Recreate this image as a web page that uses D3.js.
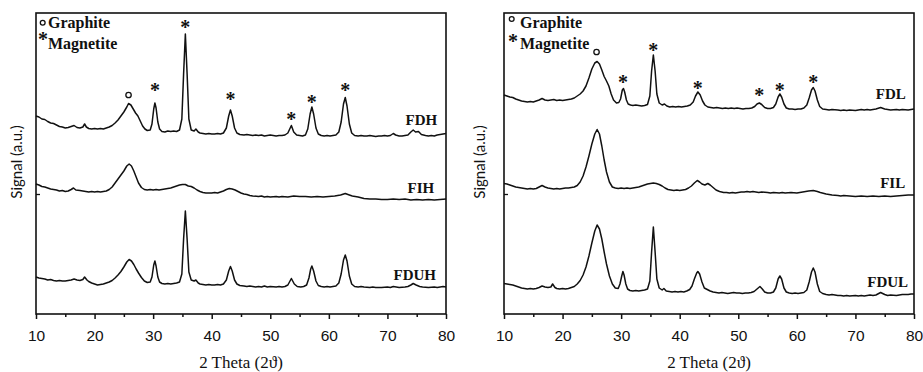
<!DOCTYPE html>
<html>
<head>
<meta charset="utf-8">
<script src="https://cdn.jsdelivr.net/npm/d3@7"></script>
<style>
  body { margin: 0; background: #fff; }
  svg { display: block; }
</style>
</head>
<body>
<div id="chart"></div>
<script>
// 2 theta axis
const xTicks = [10, 20, 30, 40, 50, 60, 70, 80];
const xMinorTicks = [15, 25, 35, 45, 55, 65, 75];

// series (2theta, signal a.u.)
const fdh = [[10,198],[10.5,197],[11,195],[11.5,194.5],[12,192.5],[12.5,191],[13,190.5],[13.5,189],[14,187.5],[14.5,187],[15,186],[15.5,186.5],[16,187.5],[16.5,188.5],[17,186.5],[17.5,186],[18,187],[18.3,190],[18.6,187],[19,185.5],[19.5,185],[20,185.5],[20.5,185],[21,185.5],[21.5,185],[22,186],[22.5,187],[23,188.5],[23.5,191],[24,194],[24.5,198],[25,202],[25.5,207],[25.8,210.5],[26.2,209],[26.6,205],[27,201],[27.4,198],[27.8,193],[28.2,188],[28.6,185],[29,183.5],[29.5,184],[29.8,190],[30.1,205],[30.3,211],[30.5,206],[30.8,192],[31.1,185],[31.5,182.5],[32,182],[32.5,183],[33,182.5],[33.5,183],[34,182.5],[34.5,184],[34.9,195],[35.2,240],[35.5,280],[35.8,240],[36.1,195],[36.5,184],[37,183],[37.3,185],[37.7,182],[38,181],[38.5,180.5],[39,180],[39.5,180.5],[40,180],[40.5,180],[41,180.5],[41.5,180],[42,181],[42.5,186],[42.9,198],[43.2,204],[43.5,198],[43.9,186],[44.3,181],[44.8,179.5],[45.5,179],[46,179.5],[46.5,179],[47,178.5],[47.5,179],[48,178.5],[48.5,179],[49,178],[49.5,178.5],[50,179],[50.5,178.5],[51,178],[51.5,178.5],[52,178.5],[52.5,179],[53,181],[53.6,188.5],[54,182],[54.5,179],[55,178.5],[55.5,178],[56,179],[56.4,185],[56.8,200],[57.1,207],[57.4,200],[57.8,186],[58.2,180],[58.7,178.5],[59.2,178],[59.7,178.5],[60.2,178],[60.7,178.5],[61.2,179],[61.7,182],[62.1,192],[62.5,210],[62.8,216.5],[63.1,208],[63.5,190],[63.9,181],[64.4,178.5],[65,178],[65.5,178.5],[66,178],[66.5,178],[67,178.5],[67.5,178],[68,177.5],[68.5,178],[69,178],[69.5,178.5],[70,178],[70.5,178.5],[71,180.5],[71.4,179],[72,178],[72.5,178],[73,178.5],[73.5,179],[74,182],[74.4,184],[74.8,182],[75.3,182.5],[75.8,179.5],[76.5,178.5],[77,178],[77.5,178.5],[78,178],[78.5,179],[79,179.5],[79.5,180],[80,180.5]];
const fih = [[10,130],[10.5,129],[11,127.5],[11.5,127],[12,126],[12.5,125],[13,124.5],[13.5,124],[14,123],[14.5,123.5],[15,122.5],[15.5,123],[16,124.5],[16.4,126],[16.8,124],[17.5,123.5],[18,123],[18.5,122.5],[19,122],[19.5,122.5],[20,122],[20.5,122.5],[21,122],[21.5,122.5],[22,123],[22.5,124.5],[23,127],[23.5,131],[24,135],[24.5,139],[25,143],[25.5,148],[25.9,150],[26.3,148],[26.7,143],[27.1,137],[27.5,131],[28,126.5],[28.5,124.5],[29,124],[29.5,124.5],[30,124],[30.5,124.5],[31,124],[31.5,124.5],[32,125],[32.5,125.5],[33,126],[33.5,127],[34,128],[34.5,129],[35,129.5],[35.5,129.5],[36,128],[36.5,127.5],[37,126],[37.5,124],[38,122.5],[38.5,121.5],[39,121],[39.5,121],[40,121],[40.5,121.5],[41,121],[41.5,122],[42,123],[42.5,124.5],[43,125.5],[43.5,125],[44,124],[44.5,122.5],[45,121],[45.5,120],[46,119.5],[46.5,118.5],[47,118],[48,117.5],[48.5,118],[49,117],[49.5,117.5],[50,117],[51,117.5],[51.5,117],[52,117.5],[53,117],[53.5,117.5],[54,118],[55,117.5],[56,117.5],[57,117],[58,117.5],[59,117],[60,117.5],[61,118],[62,119],[62.8,120.5],[63.5,119],[64,118],[65,117],[66,115.5],[67,115],[68,115],[69,114.5],[70,114.5],[71,115],[72,114.5],[73,115],[74,114],[75,114.5],[76,114],[77,114.5],[78,114],[79,114.5],[80,115]];
const fduh = [[10,37],[10.5,36],[11,35.5],[11.5,35],[12,34],[12.5,34.5],[13,33.5],[13.5,33],[14,33.5],[14.5,33],[15,33],[15.5,33.5],[16,34],[16.5,35],[17,34],[17.5,33.5],[18,34.5],[18.3,37],[18.7,34],[19,32.5],[19.5,31],[20,30],[20.5,29],[21,29.5],[21.5,30],[22,31],[22.5,32],[23,33.5],[23.5,36],[24,39],[24.5,42.5],[25,47],[25.5,52],[25.9,54.5],[26.3,53],[26.7,49.5],[27.1,45],[27.5,41],[28,36.5],[28.5,33],[29,31.5],[29.5,32],[29.8,37],[30.1,49],[30.3,53],[30.5,48],[30.8,37],[31.1,32],[31.5,30.5],[32,30],[32.5,30.5],[33,30],[33.5,30.5],[34,31],[34.5,32],[34.9,40],[35.2,75],[35.5,103],[35.8,75],[36.1,42],[36.5,34],[37,33],[37.3,34],[37.7,31],[38,30],[38.5,29.5],[39,29],[39.5,29.5],[40,29],[40.5,29],[41,29.5],[41.5,29],[42,30],[42.5,34],[42.9,43],[43.2,47.5],[43.5,43],[43.9,34],[44.3,30],[44.8,28.5],[45.5,28],[46,27.5],[46.5,28],[47,27.5],[47.5,27],[48,27.5],[48.5,27],[49,28],[49.5,27],[50,27.5],[51,27],[51.5,27.5],[52,27],[52.5,27.5],[53,29],[53.6,35.5],[54.1,30],[54.6,27.5],[55.2,27],[55.7,27.5],[56.2,29],[56.6,36],[56.9,45],[57.1,48],[57.4,43],[57.8,33],[58.2,28.5],[58.7,27.5],[59.2,27],[59.7,27.5],[60.2,27],[60.7,27.5],[61.2,28],[61.7,31],[62.1,40],[62.5,54],[62.8,59],[63.1,53],[63.5,38],[63.9,30],[64.4,27.5],[65,27],[65.5,27.5],[66,27],[67,26.5],[67.5,27],[68,26.5],[69,26.5],[70,27],[70.5,26.5],[71,27.5],[71.5,27],[72,26.5],[73,27],[73.5,27.5],[74,29],[74.4,30.5],[74.9,29],[75.5,27.5],[76,27],[77,26.5],[78,27],[78.5,26.5],[79,27],[79.5,27.5],[80,27]];

const fdl = [[10,219],[10.5,218],[11,217],[11.5,216.5],[12,215],[12.5,214],[13,213],[13.5,212.5],[14,212],[14.5,212.5],[15,212],[15.5,213],[16,214],[16.5,215.5],[17,214],[17.5,213.5],[18,214],[18.5,214.5],[19,213.5],[19.5,214],[20,213.5],[20.5,214],[21,214.5],[21.5,215],[22,216],[22.5,218],[23,220],[23.5,223],[24,228],[24.5,236],[25,245],[25.5,251],[25.9,252.5],[26.3,250],[26.7,244],[27.1,237.5],[27.5,233],[27.9,228],[28.3,220],[28.7,214],[29.2,211],[29.6,211.5],[29.9,215],[30.2,224],[30.4,225.5],[30.6,222],[30.9,214],[31.2,210],[31.6,209],[32,208.5],[32.5,209],[33,208.5],[33.5,208],[34,208.5],[34.5,209.5],[34.9,218],[35.2,243],[35.5,259],[35.8,243],[36.1,220],[36.5,211],[37,209],[37.4,210],[37.8,208],[38.3,207],[38.8,207.5],[39.3,207],[39.8,207.5],[40.3,207],[40.8,207.5],[41.3,208],[41.8,209],[42.3,212],[42.7,218],[43.1,222],[43.5,219],[43.9,213],[44.3,209],[44.8,207],[45.3,206.5],[45.8,206],[46.3,206.5],[46.8,206],[47.3,205.5],[47.8,206],[48.3,205.5],[48.8,206],[49.3,205.5],[49.8,206],[50.3,205.5],[50.8,205],[51.3,205.5],[51.8,205.5],[52.3,206],[52.8,207.5],[53.2,210],[53.6,211],[54,209.5],[54.5,206.5],[55,205.5],[55.5,205.5],[56,206.5],[56.4,210],[56.8,217],[57.1,220],[57.4,217],[57.8,210],[58.2,206],[58.7,205],[59.2,205],[59.7,204.5],[60.2,205],[60.7,205],[61.2,206],[61.7,209],[62.1,216],[62.5,224],[62.8,226.5],[63.1,223],[63.5,214],[63.9,207.5],[64.4,205],[65,204.5],[65.5,204],[66,204.5],[67,204],[67.5,203.5],[68,204],[68.5,203.5],[69,204],[70,203.5],[70.5,204],[71,204.5],[71.5,204],[72,204.5],[72.5,204],[73,204.5],[73.5,205],[74.3,206.5],[75,205],[75.5,204.5],[76,204],[77,204.5],[77.5,204],[78,204.5],[79,204],[79.5,204.5],[80,205]];
const fil = [[10,130.5],[10.5,130],[11,129],[11.5,128],[12,127],[12.5,126.5],[13,126],[13.5,125.5],[14,125],[14.5,125.5],[15,125],[15.5,125.5],[16,127],[16.5,128.5],[17,127],[17.5,126],[18,125.5],[18.5,125],[19,125.5],[19.5,125],[20,125.5],[20.5,126],[21,126],[21.5,126.5],[22,127],[22.5,128.5],[23,132],[23.5,138],[24,147],[24.5,158],[25,170],[25.5,180],[25.9,184.5],[26.3,180],[26.7,168],[27.1,154],[27.5,142],[28,132],[28.5,127],[29,126],[29.5,125.5],[30,126],[30.5,125.5],[31,126],[31.5,125.5],[32,126],[32.5,126.5],[33,127],[33.5,128],[34,129],[34.5,130],[35,130.5],[35.5,131],[36,130.5],[36.5,129.5],[37,128],[37.5,126],[38,124.5],[38.5,124],[39,123.5],[39.5,124],[40,123.5],[40.5,124],[41,124.5],[41.5,126],[42,128],[42.5,131],[43,133.5],[43.4,132],[43.8,130],[44.3,129],[44.8,130.5],[45.2,129],[45.7,126.5],[46.2,124],[46.8,122.5],[47.5,121.5],[48,121.5],[48.5,121],[49,121.5],[49.5,121],[50,121.5],[50.5,122],[51,122],[51.5,122.5],[52,122],[52.5,122.5],[53,122],[53.5,121.5],[54,122],[55,121.5],[55.5,121],[56,121.5],[57,121],[57.5,121.5],[58,121],[59,121.5],[60,121],[60.5,121.5],[61,122],[62,123],[62.8,123.5],[63.5,122.5],[64,121.5],[65,120],[66,119],[67,118.5],[67.5,118],[68,118.5],[69,118],[70,117.5],[71,118],[72,117.5],[73,118],[74,117.5],[75,118],[76,117.5],[77,118],[78,118.5],[79,119],[80,119]];
const fdul = [[10,30.5],[10.5,30],[11,29.5],[11.5,29],[12,28],[12.5,27],[13,26],[13.5,25.5],[14,25],[14.5,25.5],[15,25],[15.5,25.5],[16,26.5],[16.5,28],[17,27],[17.5,26.5],[18,27],[18.3,30],[18.7,26.5],[19,25.5],[19.5,25],[20,25.5],[20.5,25],[21,25.5],[21.5,26.5],[22,27.5],[22.5,30],[23,33.5],[23.5,39],[24,47],[24.5,58],[25,71],[25.5,83],[25.9,89],[26.3,85],[26.7,75],[27.1,62],[27.5,50],[28,38],[28.5,30],[29,26],[29.5,25.5],[29.8,30],[30.1,38],[30.3,42.5],[30.5,39],[30.8,30],[31.1,25],[31.5,23.5],[32,23],[32.5,23.5],[33,23],[33.5,23.5],[34,24],[34.5,25],[34.9,33],[35.2,62],[35.5,87],[35.8,62],[36.1,35],[36.5,26],[37,24],[37.3,25.5],[37.7,23],[38.2,22.5],[38.7,22],[39.2,22.5],[39.7,22],[40.2,22.5],[40.7,22],[41.2,23],[41.7,24.5],[42.1,28],[42.5,35],[42.9,41],[43.1,42.5],[43.4,40],[43.8,32],[44.2,26],[44.7,24.5],[45.2,23],[45.7,22],[46.2,21.5],[46.7,21],[47.2,21.5],[47.7,21],[48.2,20.5],[48.7,21],[49.2,21.5],[49.7,21],[50.2,21],[50.7,20.5],[51.2,21],[51.7,21],[52.2,21.5],[52.7,22.5],[53.2,25],[53.7,27.5],[54.1,25],[54.5,22],[55,21],[55.5,21],[56,22],[56.4,26],[56.8,35],[57.1,38],[57.4,35],[57.8,26],[58.2,22],[58.7,21],[59.2,20.5],[59.7,21],[60.2,20.5],[60.7,21],[61.2,21.5],[61.7,24],[62.1,32],[62.5,42],[62.8,46],[63.1,42],[63.5,30],[63.9,22.5],[64.4,20.5],[65,19.5],[65.5,19],[66,19.5],[66.5,19],[67,18.5],[67.5,18.5],[68,18],[68.5,18.5],[69,18],[70,18.5],[70.5,18],[71,18.5],[71.5,18],[72,18.5],[72.5,19],[73,18.5],[73.5,19],[74.3,21.5],[75,19.5],[75.5,18.5],[76,19],[77,18.5],[77.5,19],[78,19.5],[79,19.5],[79.5,20],[80,20]];

// sample labels: [name, 2theta, signal]
const leftLabels = [["FDH", 78.5, 189], ["FIH", 78.0, 121], ["FDUH", 78.3, 34]];
const rightLabels = [["FDL", 78.6, 215], ["FIL", 78.5, 126], ["FDUL", 79.0, 27]];

// phase markers: [symbol, 2theta, signal]
const leftMarks = [["o", 25.8, 219], ["*", 30.3, 226], ["*", 35.5, 289], ["*", 43.2, 217], ["*", 53.6, 197], ["*", 57.1, 214], ["*", 62.8, 226]];
const rightMarks = [["o", 25.8, 262], ["*", 30.3, 234], ["*", 35.5, 266], ["*", 43.1, 228], ["*", 53.6, 221], ["*", 57.1, 226], ["*", 62.8, 234]];

const width = 923, height = 372;
const plotTop = 13, plotBottom = 314;

const svg = d3.select("#chart").append("svg")
  .attr("width", width)
  .attr("height", height);

const panels = [
  { left: 36, right: 446, series: [fdh, fih, fduh], labels: leftLabels, marks: leftMarks,
    legend: { cx: 42.7, cy: 22.7, ax: 43, ay: 37, tx: 48 }, ylab: 22 },
  { left: 504, right: 914, series: [fdl, fil, fdul], labels: rightLabels, marks: rightMarks,
    legend: { cx: 511.7, cy: 19, ax: 513, ay: 39, tx: 520 }, ylab: 485 }
];

const serif = "'Liberation Serif', 'Times New Roman', serif";

panels.forEach(function(p) {
  var x = d3.scaleLinear().domain([10, 80]).range([p.left, p.right]);
  var y = d3.scaleLinear().domain([0, 300]).range([plotBottom, plotBottom - 300]);

  // minor ticks
  svg.append("g")
    .attr("transform", "translate(0," + plotBottom + ")")
    .call(d3.axisBottom(x).tickValues(xMinorTicks).tickSize(3).tickFormat(""))
    .call(g => g.select(".domain").remove())
    .call(g => g.selectAll("line").attr("stroke", "#111").attr("stroke-width", 1.5));

  // major ticks
  var ax = svg.append("g")
    .attr("transform", "translate(0," + plotBottom + ")")
    .call(d3.axisBottom(x).tickValues(xTicks).tickSize(5).tickPadding(11).tickFormat(d3.format("d")));
  ax.select(".domain").remove();
  ax.selectAll("line").attr("stroke", "#111").attr("stroke-width", 1.5);
  ax.selectAll("text")
    .attr("fill", "#111")
    .style("font-family", "'Liberation Sans', Arial, sans-serif")
    .style("font-size", "15.5px");

  // single y tick
  svg.append("g")
    .attr("transform", "translate(" + p.left + ",0)")
    .call(d3.axisLeft(y).tickValues([120]).tickSize(-4).tickFormat(""))
    .call(g => g.select(".domain").remove())
    .call(g => g.selectAll("line").attr("stroke", "#111").attr("stroke-width", 1.3));

  // frame
  svg.append("rect")
    .attr("x", p.left).attr("y", plotTop)
    .attr("width", p.right - p.left).attr("height", plotBottom - plotTop)
    .attr("fill", "none").attr("stroke", "#111").attr("stroke-width", 1.6);

  var line = d3.line()
    .x(d => x(d[0]))
    .y(d => y(d[1]));

  svg.append("g").selectAll("path")
    .data(p.series)
    .enter().append("path")
    .attr("d", line)
    .attr("fill", "none")
    .attr("stroke", "#111")
    .attr("stroke-width", 1.5)
    .attr("stroke-linejoin", "round");

  // sample labels
  svg.append("g").selectAll("text")
    .data(p.labels)
    .enter().append("text")
    .attr("x", d => x(d[1]))
    .attr("y", d => y(d[2]))
    .attr("text-anchor", "end")
    .style("font-family", serif)
    .style("font-size", "15px")
    .style("font-weight", "bold")
    .attr("fill", "#111")
    .text(d => d[0]);

  // phase markers
  var marks = svg.append("g");
  marks.selectAll("circle")
    .data(p.marks.filter(d => d[0] == "o"))
    .enter().append("circle")
    .attr("cx", d => x(d[1]))
    .attr("cy", d => y(d[2]))
    .attr("r", 2.7)
    .attr("fill", "none")
    .attr("stroke", "#111")
    .attr("stroke-width", 1.3);
  marks.selectAll("text")
    .data(p.marks.filter(d => d[0] == "*"))
    .enter().append("text")
    .attr("x", d => x(d[1]))
    .attr("y", d => y(d[2]) + 9)
    .attr("text-anchor", "middle")
    .style("font-family", serif)
    .style("font-size", "20px")
    .style("font-weight", "bold")
    .attr("fill", "#111")
    .text("*");

  // legend
  var lg = p.legend;
  svg.append("circle")
    .attr("cx", lg.cx).attr("cy", lg.cy).attr("r", 2.4)
    .attr("fill", "none").attr("stroke", "#111").attr("stroke-width", 1.3);
  svg.append("text")
    .attr("x", lg.ax).attr("y", lg.ay + 9)
    .attr("text-anchor", "middle")
    .style("font-family", serif).style("font-size", "20px").style("font-weight", "bold")
    .attr("fill", "#111").text("*");
  svg.append("text")
    .attr("x", lg.tx).attr("y", 28)
    .style("font-family", serif).style("font-size", "16px").style("font-weight", "bold")
    .attr("fill", "#111").text("Graphite");
  svg.append("text")
    .attr("x", lg.tx).attr("y", 49)
    .style("font-family", serif).style("font-size", "16px").style("font-weight", "bold")
    .attr("fill", "#111").text("Magnetite");

  // axis titles
  svg.append("text")
    .attr("x", (p.left + p.right) / 2).attr("y", 368)
    .attr("text-anchor", "middle")
    .style("font-family", serif).style("font-size", "17px")
    .attr("fill", "#111").text("2 Theta (2\u03D1)");

  svg.append("text")
    .attr("transform", "translate(" + p.ylab + ",162) rotate(-90)")
    .attr("text-anchor", "middle")
    .style("font-family", "Lato, 'Liberation Sans', sans-serif").style("font-size", "15px")
    .attr("fill", "#111").text("Signal (a.u.)");
});
</script>
</body>
</html>
